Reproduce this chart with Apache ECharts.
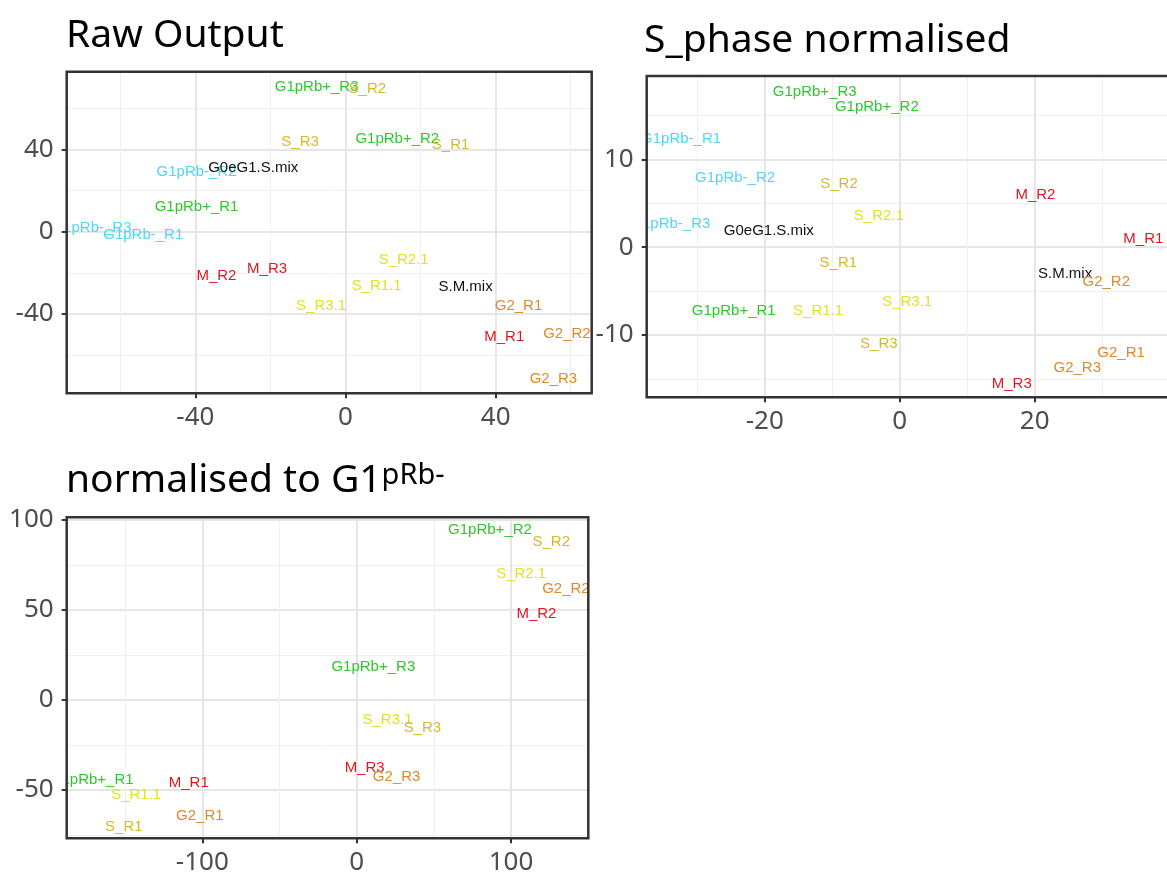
<!DOCTYPE html>
<html>
<head>
<meta charset="utf-8">
<title>PCA label maps</title>
<script src="https://cdn.jsdelivr.net/npm/echarts@6/dist/echarts.min.js"></script>
<style>
  html, body { margin: 0; padding: 0; background: #ffffff; }
  #chart { width: 1167px; height: 879px; }
</style>
</head>
<body>
<div id="chart"></div>
<script>
// ---- Raw Output ----
const rawNames = ['G1pRb+_R3', 'S_R2', 'S_R3', 'G1pRb+_R2', 'S_R1', 'G1pRb-_R2', 'G0eG1.S.mix', 'G1pRb+_R1',
  'G1pRb-_R3', 'G1pRb-_R1', 'M_R2', 'M_R3', 'S_R2.1', 'S_R1.1', 'S.M.mix', 'S_R3.1', 'G2_R1', 'M_R1', 'G2_R2', 'G2_R3'];
const rawX = [-7.7, 5.8, -12.1, 13.8, 28.0, -39.7, -24.6, -39.7, -67.7, -53.9, -34.4, -20.9, 15.5, 8.3, 32.0, -6.5, 46.1, 42.3, 59.0, 55.4];
const rawY = [70.2, 69.2, 43.4, 45.0, 42.1, 29.2, 30.8, 11.9, 1.7, -1.6, -21.5, -18.3, -13.8, -26.4, -27.0, -36.1, -36.1, -51.0, -49.7, -71.7];
const rawXTicks = [-40, 0, 40];
const rawYTicks = [-40, 0, 40];
const rawXMinor = [-60, -20, 20, 60];
const rawYMinor = [-60, -20, 20, 60];
const rawXRange = [-74.3, 65.6];
const rawYRange = [-78.5, 77.7];

// ---- S_phase normalised ----
const sNames = ['G1pRb+_R3', 'G1pRb+_R2', 'G1pRb-_R1', 'G1pRb-_R2', 'S_R2', 'S_R2.1', 'M_R2', 'M_R1', 'G1pRb-_R3',
  'G0eG1.S.mix', 'S_R1', 'S.M.mix', 'G2_R2', 'S_R3.1', 'G1pRb+_R1', 'S_R1.1', 'S_R3', 'G2_R1', 'G2_R3', 'M_R3'];
const sX = [-12.6, -3.4, -32.4, -24.4, -9.0, -3.1, 20.1, 36.1, -34.0, -19.4, -9.1, 24.5, 30.6, 1.1, -24.6, -12.1, -3.1, 32.8, 26.3, 16.6];
const sY = [17.7, 16.0, 12.3, 7.9, 7.2, 3.6, 6.0, 1.0, 2.65, 1.9, -1.8, -3.0, -4.0, -6.2, -7.2, -7.3, -11.05, -12.0, -13.8, -15.6];
const sXTicks = [-20, 0, 20];
const sYTicks = [-10, 0, 10];
const sXMinor = [-30, -10, 10, 30];
const sYMinor = [-15, -5, 5, 15];
const sXRange = [-37.5, 39.6];
const sYRange = [-17.1, 19.5];

// ---- normalised to G1pRb- ----
const gNames = ['G1pRb+_R2', 'S_R2', 'S_R2.1', 'G2_R2', 'M_R2', 'G1pRb+_R3', 'S_R3.1', 'S_R3', 'M_R3', 'G2_R3',
  'G1pRb+_R1', 'S_R1.1', 'M_R1', 'G2_R1', 'S_R1'];
const gX = [86.4, 126.1, 106.6, 135.6, 116.5, 10.8, 20.0, 42.6, 5.2, 25.9, -171.7, -142.9, -108.8, -101.6, -150.9];
const gY = [94.4, 87.9, 70.0, 62.0, 48.1, 18.5, -11.1, -15.7, -37.9, -42.9, -44.1, -52.8, -45.9, -64.4, -70.4];
const gXTicks = [-100, 0, 100];
const gYTicks = [-50, 0, 50, 100];
const gXMinor = [-150, -50, 50, 150];
const gYMinor = [-75, -25, 25, 75];
const gXRange = [-187.9, 150.1];
const gYRange = [-76.8, 101.5];

// sample-group colours
const groupColours = {
  pos: '#2dc82d',   // G1pRb+
  neg: '#50d5f7',   // G1pRb-
  mix: '#111111',   // mixed samples
  s: '#d5b82c',     // S
  s1: '#e2e223',    // S (.1 replicates)
  m: '#e0161e',     // M
  g2: '#e0892b'     // G2
};
function colourOf(name) {
  if (name.indexOf('G1pRb+') === 0) return groupColours.pos;
  if (name.indexOf('G1pRb-') === 0) return groupColours.neg;
  if (name.indexOf('mix') >= 0) return groupColours.mix;
  if (name.indexOf('M_') === 0) return groupColours.m;
  if (name.indexOf('G2_') === 0) return groupColours.g2;
  if (/\.1$/.test(name)) return groupColours.s1;
  return groupColours.s;
}

const panels = [
  { names: rawNames, xs: rawX, ys: rawY, xTicks: rawXTicks, yTicks: rawYTicks, xMinor: rawXMinor, yMinor: rawYMinor,
    xRange: rawXRange, yRange: rawYRange, box: { left: 66.7, top: 71.7, width: 525, height: 321.6 } },
  { names: sNames, xs: sX, ys: sY, xTicks: sXTicks, yTicks: sYTicks, xMinor: sXMinor, yMinor: sYMinor,
    xRange: sXRange, yRange: sYRange, box: { left: 646.7, top: 76, width: 524, height: 321.3 } },
  { names: gNames, xs: gX, ys: gY, xTicks: gXTicks, yTicks: gYTicks, xMinor: gXMinor, yMinor: gYMinor,
    xRange: gXRange, yRange: gYRange, box: { left: 66.7, top: 517.3, width: 521.6, height: 321 } }
];

const tickFont = { color: '#4d4d4d', fontFamily: 'Noto Sans', fontSize: 26 };
const majorGrid = { color: '#e6e6e6', width: 2 };
const minorGrid = { color: '#f0f0f0', width: 1 };

const grids = [], xAxes = [], yAxes = [], series = [], borders = [];
panels.forEach(function (p, i) {
  grids.push({ left: p.box.left, top: p.box.top, width: p.box.width, height: p.box.height, containLabel: false });
  // main axes: ticks, labels, major grid lines
  xAxes.push({
    type: 'value', gridIndex: i, min: p.xRange[0], max: p.xRange[1], position: 'bottom',
    axisLine: { show: false, onZero: false },
    axisTick: { show: true, customValues: p.xTicks, length: 5, lineStyle: { color: '#333333', width: 2 } },
    axisLabel: Object.assign({ customValues: p.xTicks, margin: 11 }, tickFont),
    splitLine: { show: true, lineStyle: majorGrid }
  });
  yAxes.push({
    type: 'value', gridIndex: i, min: p.yRange[0], max: p.yRange[1], position: 'left',
    axisLine: { show: false, onZero: false },
    axisTick: { show: true, customValues: p.yTicks, length: 5, lineStyle: { color: '#333333', width: 2 } },
    axisLabel: Object.assign({ customValues: p.yTicks, margin: 13 }, tickFont),
    splitLine: { show: true, lineStyle: majorGrid }
  });
  // companion axes carrying the minor grid lines
  xAxes.push({
    type: 'value', gridIndex: i, min: p.xRange[0], max: p.xRange[1], position: 'bottom',
    axisLine: { show: false, onZero: false },
    axisTick: { show: false, customValues: p.xMinor },
    axisLabel: { show: false },
    splitLine: { show: true, lineStyle: minorGrid }
  });
  yAxes.push({
    type: 'value', gridIndex: i, min: p.yRange[0], max: p.yRange[1], position: 'left',
    axisLine: { show: false, onZero: false },
    axisTick: { show: false, customValues: p.yMinor },
    axisLabel: { show: false },
    splitLine: { show: true, lineStyle: minorGrid }
  });
  const names = p.names;
  series.push({
    type: 'custom',
    xAxisIndex: 2 * i,
    yAxisIndex: 2 * i,
    clip: true,
    data: p.xs.map(function (x, k) { return [x, p.ys[k]]; }),
    renderItem: function (params, api) {
      const pt = api.coord([api.value(0), api.value(1)]);
      const name = names[params.dataIndex];
      return {
        type: 'text',
        x: pt[0],
        y: pt[1],
        style: {
          text: name,
          fill: colourOf(name),
          fontFamily: 'Liberation Sans',
          fontSize: 15,
          align: 'center',
          verticalAlign: 'middle'
        }
      };
    }
  });
  borders.push({
    type: 'rect', silent: true, z: 100,
    shape: { x: p.box.left, y: p.box.top, width: p.box.width, height: p.box.height },
    style: { fill: null, stroke: '#333333', lineWidth: 2.5 }
  });
});

const titleStyle = { fontFamily: 'Noto Sans', fontSize: 39, fontWeight: 'normal', color: '#000000' };

const chart = echarts.init(document.getElementById('chart'), null, { renderer: 'canvas' });
chart.setOption({
  animation: false,
  backgroundColor: '#ffffff',
  title: [
    { text: 'Raw Output', left: 66, top: 16, padding: 0, textStyle: titleStyle },
    { text: 'S_phase normalised', left: 644, top: 21, padding: 0, textStyle: titleStyle },
    {
      text: 'normalised to G1{sup|pRb-}', left: 66, top: 461, padding: 0,
      textStyle: Object.assign({
        rich: { sup: { fontFamily: 'Noto Sans', fontSize: 29, color: '#000000', verticalAlign: 'top' } }
      }, titleStyle)
    }
  ],
  grid: grids,
  xAxis: xAxes,
  yAxis: yAxes,
  series: series,
  graphic: { elements: borders }
});
</script>
</body>
</html>
